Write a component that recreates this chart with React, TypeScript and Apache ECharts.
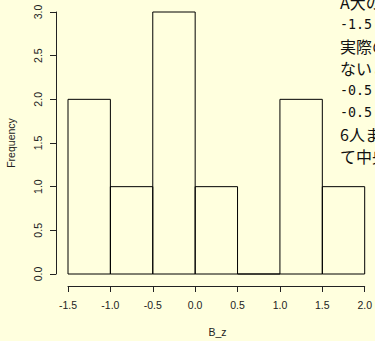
import React, { useEffect, useRef } from "react";
import * as echarts from "echarts";

const binEdges = [-1.5, -1.0, -0.5, 0.0, 0.5, 1.0, 1.5, 2.0];
const counts = [2, 1, 3, 1, 0, 2, 1];
const xTicks = [-1.5, -1.0, -0.5, 0.0, 0.5, 1.0, 1.5, 2.0];
const yTicks = [0, 0.5, 1.0, 1.5, 2.0, 2.5, 3.0];
const noteLines = ["A大の", "-1.5", "実際の", "ないと", "-0.5", "-0.5", "6人ま", "て中央"];
const xTitle = "B_z";
const yTitle = "Frequency";

const BG = "#FFFFDE";
const FONT = "'Liberation Sans', Arial, 'Noto Sans CJK JP', sans-serif";
const CJK = "'Noto Sans CJK JP', sans-serif";
const MONO = "'DejaVu Sans Mono', monospace";

export default function App() {
  const ref = useRef<HTMLDivElement>(null);
  useEffect(() => {
    document.body.style.margin = "0";
    document.body.style.background = BG;
    const chart = echarts.init(ref.current!, null, { renderer: "svg" });
    const data = counts.map((c, i) => [binEdges[i], binEdges[i + 1], c]);
    const isLatin = (t: string) => /^[\x00-\x7f]+$/.test(t);
    const option: any = {
      animation: false,
      backgroundColor: BG,
      grid: { left: 68, right: 8, top: 12, bottom: 67 },
      xAxis: {
        type: "value",
        min: xTicks[0],
        max: xTicks[xTicks.length - 1],
        interval: 0.5,
        offset: 12,
        axisLine: { show: true, onZero: false, lineStyle: { color: "#222", width: 1 } },
        axisTick: { show: true, length: 6, lineStyle: { color: "#222" } },
        axisLabel: {
          margin: 14,
          fontSize: 10.5,
          color: "#222",
          fontFamily: FONT,
          formatter: (v: number) => v.toFixed(1),
        },
        splitLine: { show: false },
      },
      yAxis: {
        type: "value",
        min: yTicks[0],
        max: yTicks[yTicks.length - 1],
        interval: 0.5,
        offset: 12,
        axisLine: { show: true, onZero: false, lineStyle: { color: "#222", width: 1 } },
        axisTick: { show: true, length: 6, lineStyle: { color: "#222" } },
        axisLabel: {
          margin: 13,
          rotate: 90,
          fontSize: 10.5,
          color: "#222",
          fontFamily: FONT,
          formatter: (v: number) => v.toFixed(1),
        },
        splitLine: { show: false },
      },
      series: [
        {
          type: "custom",
          data,
          encode: { x: [0, 1], y: 2 },
          renderItem: (params: any, api: any) => {
            const p0 = api.coord([api.value(0), 0]);
            const p1 = api.coord([api.value(1), api.value(2)]);
            return {
              type: "rect",
              shape: { x: p0[0], y: p1[1], width: p1[0] - p0[0], height: p0[1] - p1[1] },
              style: { fill: "none", stroke: "#000", lineWidth: 1 },
            };
          },
        },
      ],
      graphic: [
        {
          type: "text",
          x: 11,
          y: 143,
          rotation: Math.PI / 2,
          style: {
            text: yTitle,
            fontSize: 10.5,
            fill: "#222",
            fontFamily: FONT,
            align: "center",
            verticalAlign: "middle",
          },
        },
        {
          type: "text",
          x: 217.5,
          y: 332,
          style: {
            text: xTitle,
            fontSize: 10.5,
            fill: "#222",
            fontFamily: FONT,
            align: "center",
            verticalAlign: "middle",
          },
        },
        ...noteLines.map((t, i) => ({
          type: "text",
          x: 340,
          y: 2 + i * 22,
          style: {
            text: t,
            fontSize: isLatin(t) ? 13.3 : 16,
            fill: "#111",
            fontFamily: isLatin(t) ? MONO : CJK,
            align: "left",
            verticalAlign: "middle",
          },
        })),
      ],
    };
    chart.setOption(option);
    return () => chart.dispose();
  }, []);
  return (
    <div
      ref={ref}
      style={{ position: "absolute", left: 0, top: 0, width: 375, height: 341 }}
    />
  );
}
